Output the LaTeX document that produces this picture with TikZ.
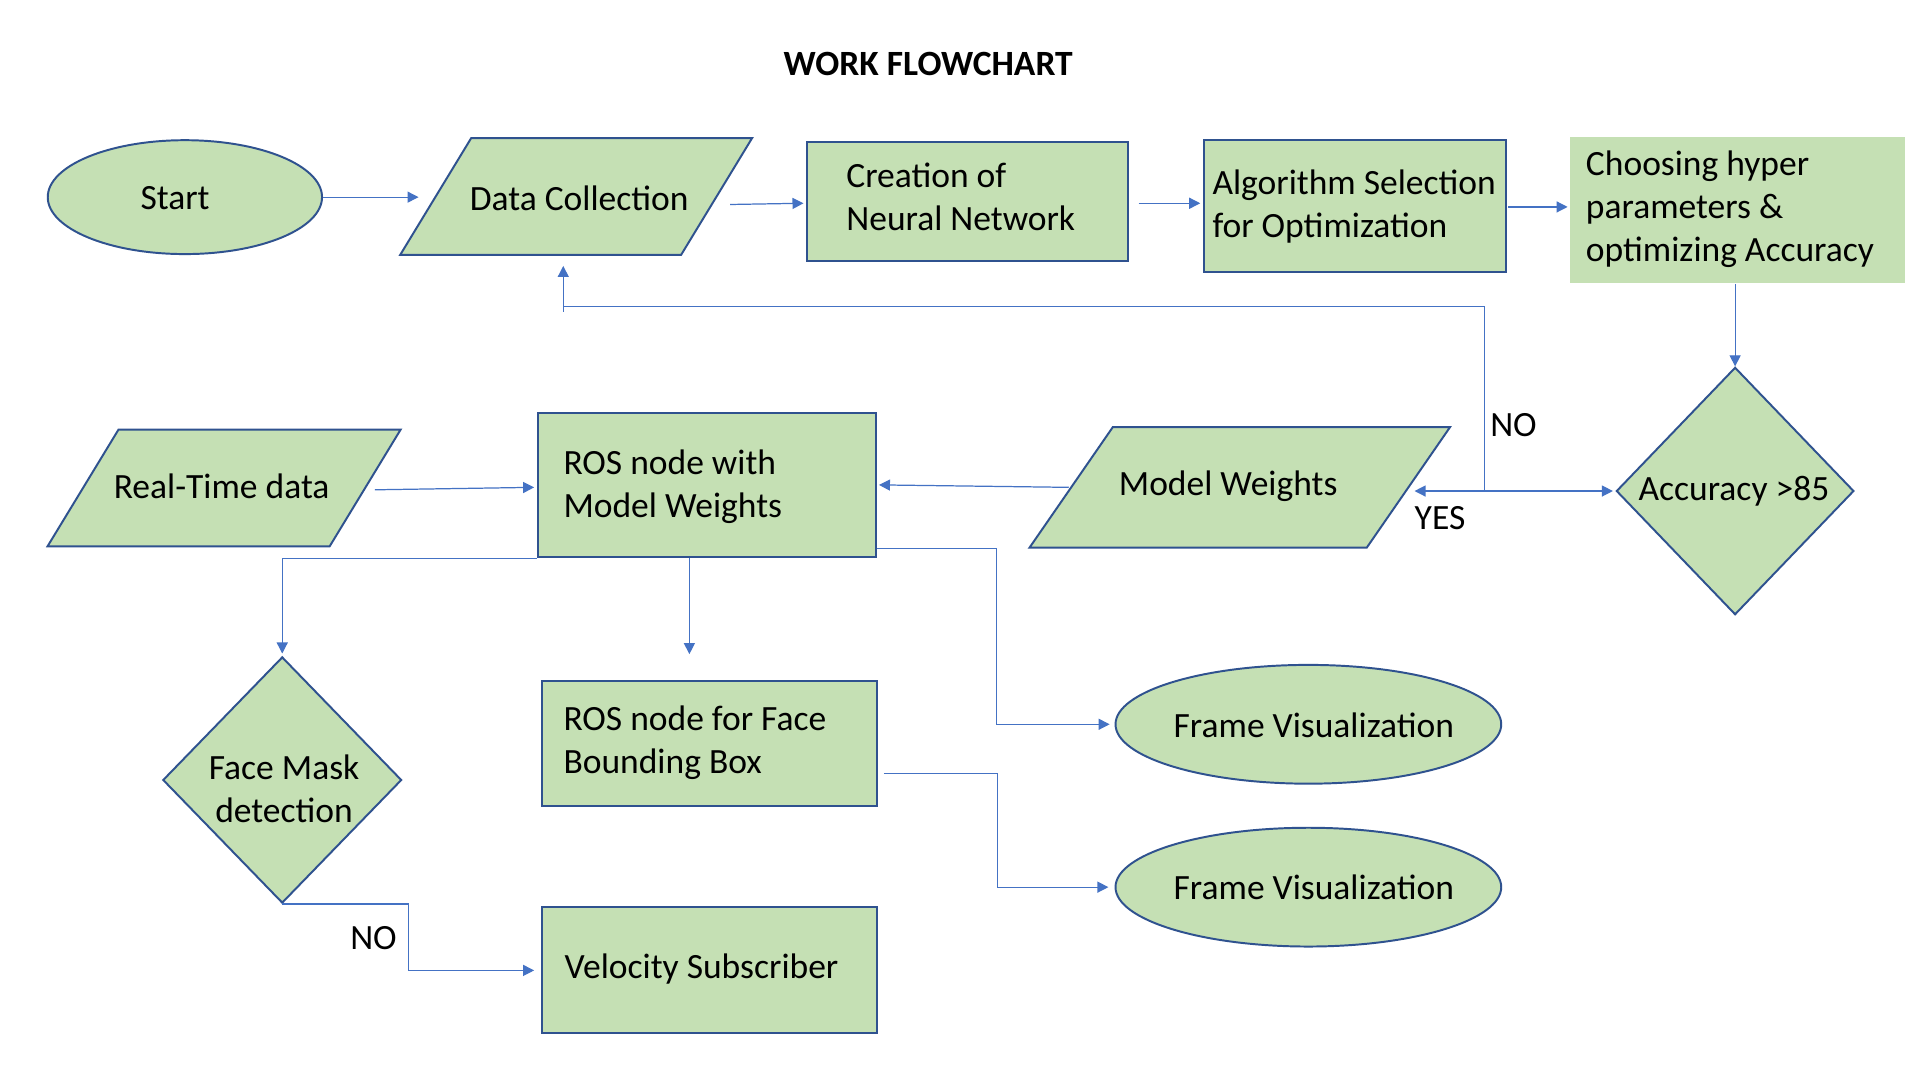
\documentclass[tikz,border=0pt]{standalone}
\usepackage{fontspec}
\setmainfont{Carlito}
\usetikzlibrary{shapes.geometric,arrows.meta,calc}
\definecolor{boxfill}{HTML}{C5E0B4}
\definecolor{boxline}{HTML}{2F528F}
\definecolor{arrline}{HTML}{4472C4}
\begin{document}
\begin{tikzpicture}[x=1pt,y=-1pt,
  every node/.style={font=\fontsize{29}{35}\selectfont},
  shp/.style={fill=boxfill,draw=boxline,line width=1.6pt,inner sep=0pt},
  rectbox/.style={shp,rectangle},
  ovalbox/.style={shp,ellipse},
  dia/.style={shp,diamond},
  parabase/.style={rectangle,inner sep=0pt},
  txt/.style={inner sep=0pt,align=left,text=black},
  arr/.style={draw=arrline,line width=1pt,-{Triangle[length=9pt,width=9pt]}},
  lin/.style={draw=arrline,line width=1pt},
  lbl/.style={inner sep=0pt,text=black}]
\useasboundingbox[fill=white] (0,0) rectangle (1568,882);

% title
\node[lbl,font=\fontsize{29}{35}\selectfont\bfseries] (title) at (758,52) {WORK FLOWCHART};

% shapes
\node[ovalbox,minimum width=224pt,minimum height=93pt] (start) at (151,161) {};
\node[parabase,minimum width=229pt,minimum height=95pt] (data) at (470.5,160.5) {};
\draw[shp] ($(data.north west)+(29,0)$) -- ($(data.north east)+(29,0)$) -- ($(data.south east)+(-29,0)$) -- ($(data.south west)+(-29,0)$) -- cycle;
\node[rectbox,minimum width=262pt,minimum height=97pt] (creation) at (790,164.5) {};
\node[rectbox,minimum width=247pt,minimum height=108pt] (algo) at (1106.5,168) {};
\node[shp,rectangle,draw=none,minimum width=274pt,minimum height=119pt] (choose) at (1419,171.5) {};
\node[dia,minimum width=194pt,minimum height=202pt] (acc) at (1417,401) {};
\node[parabase,minimum width=275pt,minimum height=98pt] (mw) at (1012.5,398) {};
\draw[shp] ($(mw.north west)+(34,0)$) -- ($(mw.north east)+(34,0)$) -- ($(mw.south east)+(-34,0)$) -- ($(mw.south west)+(-34,0)$) -- cycle;
\node[rectbox,minimum width=276pt,minimum height=118pt] (ros) at (577,396) {};
\node[parabase,minimum width=230pt,minimum height=95pt] (rt) at (183,398.5) {};
\draw[shp] ($(rt.north west)+(29,0)$) -- ($(rt.north east)+(29,0)$) -- ($(rt.south east)+(-29,0)$) -- ($(rt.south west)+(-29,0)$) -- cycle;
\node[dia,minimum width=195pt,minimum height=201pt] (fm) at (230.5,637) {};
\node[rectbox,minimum width=273pt,minimum height=102pt] (face) at (579.5,607) {};
\node[ovalbox,minimum width=315pt,minimum height=97pt] (fv1) at (1068.5,591.5) {};
\node[ovalbox,minimum width=315pt,minimum height=97pt] (fv2) at (1068.5,724.5) {};
\node[rectbox,minimum width=273pt,minimum height=103pt] (vel) at (579.5,792.5) {};

% texts
\node[txt] (tstart) at (143,162) {Start};
\node[txt] (tdata) at (473,162) {Data Collection};
\node[txt,anchor=west] (tcreation) at (691,160.5) {Creation of\\Neural Network};
\node[txt,anchor=west] (talgo) at (990,168.5) {Algorithm Selection\\for Optimization};
\node[txt,anchor=west] (tchoose) at (1295,171) {Choosing hyper\\parameters \&\\optimizing Accuracy};
\node[txt] (tacc) at (1416,401) {Accuracy {>}85};
\node[txt] (tmw) at (1003,397) {Model Weights};
\node[txt,anchor=west] (tros) at (460,397.5) {ROS node with\\Model Weights};
\node[txt] (trt) at (181,397) {Real-Time data};
\node[txt,align=center] (tfm) at (232,644.5) {Face Mask\\detection};
\node[txt,anchor=west] (tface) at (460,606.5) {ROS node for Face\\Bounding Box};
\node[txt] (tfv1) at (1073,592) {Frame Visualization};
\node[txt] (tfv2) at (1073,725) {Frame Visualization};
\node[txt,anchor=west] (tvel) at (461,791) {Velocity Subscriber};

% labels
\node[lbl] (lno1) at (1236,347) {NO};
\node[lbl] (lyes) at (1176,423) {YES};
\node[lbl] (lno2) at (305,766) {NO};

% connectors
\draw[arr] (start.east) -- ($(start.east)+(78,0)$);
\draw[arr] ($(data.east)+(11,6.5)$) -- ($(creation.west)+(-2,1.5)$);
\draw[arr] ($(creation.east)+(8,1.5)$) -- ($(algo.west)+(-2,-2)$);
\draw[arr] ($(algo.east)+(1,1)$) -- ($(algo.east -| choose.west)+(-1,1)$);
\draw[arr] (choose.south -| acc.north) -- (acc.north);

\coordinate (mwin) at ($(acc.west -| mw.east)+(5,0)$);
\coordinate (nosplit) at ($(acc.west)+(-107,0)$);
\draw[arr,{Triangle[length=9pt,width=9pt]}-{Triangle[length=9pt,width=9pt]}] (mwin) -- ($(acc.west)+(-2,0)$);
\draw[arr] (nosplit) |- ($(data.south)+(-10.5,42)$) -- ($(data.south)+(-10.5,9)$);
\draw[lin] ($(data.south)+(-10.5,42)$) -- ++(0,5);

\draw[arr] ($(mw.west)+(-2,0)$) -- ($(ros.east)+(2,0)$);
\draw[arr] ($(rt.east)+(8,1.5)$) -- ($(ros.west)+(-2,2)$);
\draw[arr] (ros.south west) -| ($(fm.north)+(0,-2)$);
\draw[arr] ($(ros.south)+(-14,0)$) -- ($(face.north)+(-16.5,-21)$);
\draw[arr] ($(ros.south east)+(0,-8)$) -- ++(98,0) |- ($(fv1.west)+(-4,0)$);
\draw[arr] ($(face.east)+(5,25)$) -- ++(93,0) |- ($(fv2.west)+(-5,0)$);
\draw[arr] (fm.south) -- ++(103,0) |- ($(vel.west)+(-6,0)$);
\end{tikzpicture}
\end{document}
